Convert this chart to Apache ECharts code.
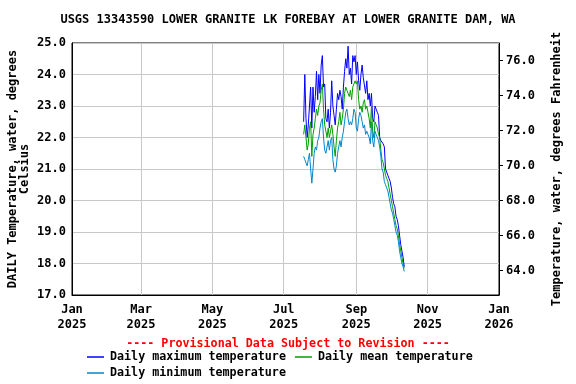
<!DOCTYPE html>
<html>
<head>
<meta charset="utf-8">
<script src="https://cdn.jsdelivr.net/npm/echarts@6/dist/echarts.min.js"></script>
<style>html,body{margin:0;padding:0;background:#fff}#c{width:576px;height:384px}</style>
</head>
<body>
<div id="c"></div>
<script>
// ---- data ----
var titleText = 'USGS 13343590 LOWER GRANITE LK FOREBAY AT LOWER GRANITE DAM, WA';
var provisionalText = '---- Provisional Data Subject to Revision ----';
var startDate = [2025, 6, 18]; // Jul 18 2025 (month 0-based), daily values follow
var maxTemp = [22.5,24.0,22.6,22.0,22.4,23.0,23.6,22.3,23.6,22.8,23.3,24.1,23.2,24.0,23.4,24.3,24.6,23.6,23.7,22.6,
  22.5,22.9,22.3,22.8,23.8,23.0,22.7,22.4,22.9,23.4,23.2,23.5,23.3,22.9,23.6,24.1,24.5,24.2,24.9,24.0,
  24.2,23.7,24.6,24.4,24.6,24.0,24.4,23.8,23.5,24.0,24.3,23.9,23.9,23.4,23.8,23.2,23.4,23.0,23.4,22.6,
  22.5,23.0,22.9,22.8,22.7,22.0,21.9,21.9,21.8,21.7,21.0,20.9,20.8,20.7,20.6,20.4,20.1,19.9,19.8,19.5,
  19.4,19.2,18.9,18.6,18.4,18.2,17.9];
var meanTemp = [22.1,22.4,22.0,21.6,21.8,22.3,22.5,21.4,22.1,22.3,22.6,22.9,22.7,23.0,23.1,23.5,23.7,22.9,22.4,22.2,
  22.0,22.3,22.0,22.2,22.4,22.1,21.7,21.4,21.9,22.3,22.5,22.8,22.4,22.6,22.9,23.4,23.6,23.5,23.4,23.3,
  23.5,23.2,23.6,23.7,23.8,23.7,23.8,23.2,22.9,23.0,22.8,23.1,23.2,22.9,23.0,22.8,22.6,22.3,23.0,22.2,
  22.0,22.5,22.4,22.3,22.1,22.0,21.6,21.3,21.2,21.0,20.8,20.7,20.6,20.4,20.2,20.0,19.8,19.6,19.4,19.2,
  19.1,18.9,18.6,18.4,18.2,18.0,17.85];
var minTemp = [21.4,21.3,21.2,21.1,21.3,21.5,21.0,20.55,21.0,21.5,21.7,21.6,21.9,22.0,22.3,22.5,22.6,22.0,21.6,21.5,
  21.7,21.9,21.6,21.9,22.0,21.3,21.0,20.9,21.1,21.5,21.7,21.9,21.7,22.0,22.2,22.5,22.8,22.9,22.6,22.4,
  22.5,22.4,22.6,22.9,22.8,22.3,22.2,22.6,22.8,22.7,22.5,22.3,22.4,22.1,22.2,22.1,22.0,21.8,22.5,21.9,
  21.7,22.2,22.1,22.0,21.9,21.7,21.4,21.0,20.9,20.6,20.5,20.4,20.3,20.1,19.9,19.7,19.6,19.4,19.2,19.0,
  18.9,18.7,18.4,18.2,18.0,17.9,17.75];
var xTickDates = [[2025,0],[2025,2],[2025,4],[2025,6],[2025,8],[2025,10],[2026,0]];
var monthNames = ['Jan','Feb','Mar','Apr','May','Jun','Jul','Aug','Sep','Oct','Nov','Dec'];
var celsiusRange = [17, 25];
var fahrenheitTicks = [64, 66, 68, 70, 72, 74, 76];

// ---- build ----
function dayTs(i){ return new Date(startDate[0], startDate[1], startDate[2] + i).getTime(); }
function toPairs(arr){ return arr.map(function(v,i){ return [dayTs(i), v]; }); }
var xTicks = xTickDates.map(function(d){ return new Date(d[0], d[1], 1).getTime(); });
var fmin = celsiusRange[0]*1.8+32, fmax = celsiusRange[1]*1.8+32;
var FONT = '"DejaVu Sans Mono", monospace';
var txt = {fontFamily: FONT, fontWeight: 'bold', fontSize: 12, color: '#000'};
var legendCommon = {icon: 'rect', itemWidth: 17, itemHeight: 1.5, padding: 0,
  textStyle: Object.assign({}, txt, {fontSize: 11.7, padding: [0, 0, 0, 1]})};

var chart = echarts.init(document.getElementById('c'), null, {renderer: 'canvas'});
chart.setOption({
  animation: false,
  backgroundColor: '#fff',
  title: [
    {text: titleText, left: 'center', top: 14, padding: 0, textStyle: Object.assign({}, txt)},
    {text: provisionalText, left: 'center', top: 338, padding: 0,
     textStyle: Object.assign({}, txt, {color: '#ff0000', fontSize: 11.7})}
  ],
  grid: {left: 72, right: 77, top: 43, height: 252, containLabel: false, outerBoundsMode: 'none',
    show: true, borderColor: '#000', borderWidth: 1, backgroundColor: '#fff'},
  legend: [
    Object.assign({data: ['Daily maximum temperature', 'Daily mean temperature'], left: 87, top: 351, itemGap: 9}, legendCommon),
    Object.assign({data: ['Daily minimum temperature'], left: 87, top: 367}, legendCommon)
  ],
  xAxis: {
    type: 'value', min: xTicks[0], max: xTicks[xTicks.length-1],
    axisLine: {show: true, lineStyle: {color: '#000'}},
    axisTick: {show: false, customValues: xTicks},
    splitLine: {show: true, lineStyle: {color: '#c8c8c8', width: 1}},
    axisLabel: Object.assign({}, txt, {customValues: xTicks, margin: 7, lineHeight: 15, hideOverlap: false,
      formatter: function(v){ var d = new Date(v); return monthNames[d.getMonth()] + '\n' + d.getFullYear(); }})
  },
  yAxis: [
    {type: 'value', min: celsiusRange[0], max: celsiusRange[1], interval: 1, position: 'left',
     name: 'DAILY Temperature, water, degrees\nCelsius', nameLocation: 'middle', nameGap: 41, nameRotate: 90,
     nameMoveOverlap: false,
     nameTextStyle: Object.assign({}, txt, {lineHeight: 12}),
     axisLine: {show: true, lineStyle: {color: '#000'}},
     axisTick: {show: false},
     splitLine: {show: true, lineStyle: {color: '#c8c8c8', width: 1}},
     axisLabel: Object.assign({}, txt, {margin: 6, formatter: function(v){ return v.toFixed(1); }})},
    {type: 'value', min: fmin, max: fmax, position: 'right',
     name: 'Temperature, water, degrees Fahrenheit', nameLocation: 'middle', nameGap: 52, nameRotate: 90,
     nameTextStyle: Object.assign({}, txt),
     axisLine: {show: true, lineStyle: {color: '#000'}},
     axisTick: {show: true, inside: false, length: 4, customValues: fahrenheitTicks, lineStyle: {color: '#000'}},
     splitLine: {show: false},
     axisLabel: Object.assign({}, txt, {margin: 7, customValues: fahrenheitTicks, formatter: function(v){ return v.toFixed(1); }})}
  ],
  series: [
    {name: 'Daily maximum temperature', type: 'line', data: toPairs(maxTemp), symbol: 'none', color: '#0000ff', lineStyle: {width: 1, color: '#0000ff'}, yAxisIndex: 0},
    {name: 'Daily mean temperature', type: 'line', data: toPairs(meanTemp), symbol: 'none', color: '#00a000', lineStyle: {width: 1, color: '#00a000'}, yAxisIndex: 0},
    {name: 'Daily minimum temperature', type: 'line', data: toPairs(minTemp), symbol: 'none', color: '#0088cc', lineStyle: {width: 1, color: '#0088cc'}, yAxisIndex: 0}
  ]
});
</script>
</body>
</html>
